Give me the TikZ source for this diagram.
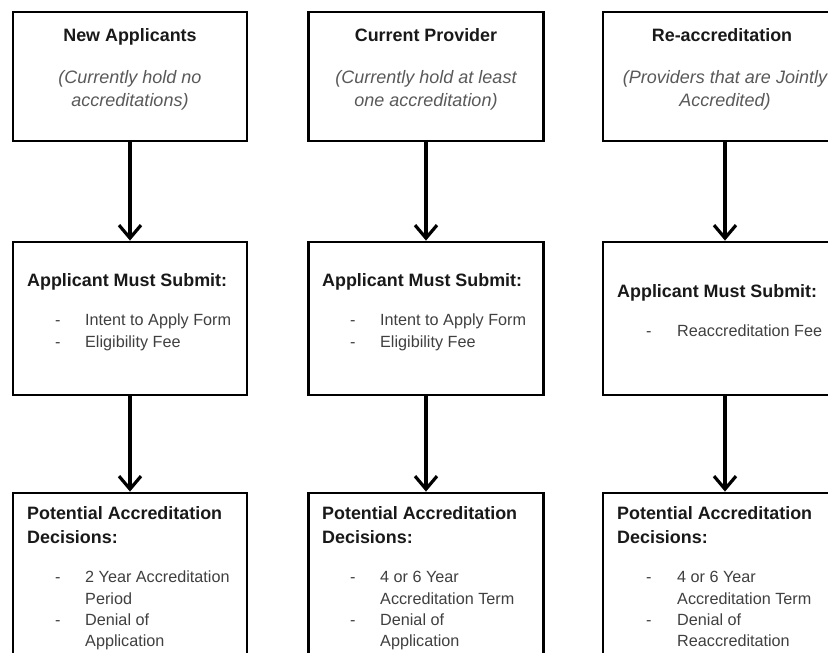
\documentclass[tikz,border=0pt]{standalone}
\usepackage{fontspec}
\setmainfont{Liberation Sans}
\usetikzlibrary{arrows.meta}
\definecolor{headblack}{gray}{0.1}
\definecolor{notegrey}{gray}{0.35}
\definecolor{itemgrey}{gray}{0.25}

\begin{document}
\begin{tikzpicture}[x=1pt, y=-1pt,
	stage/.style={shape=rectangle, draw=black, line width=2.8pt, fill=white, inner sep=0pt},
	head/.style={inner sep=0pt, text=headblack, font=\fontsize{17.9}{24.3}\bfseries},
	note/.style={inner sep=0pt, anchor=base, text=notegrey, font=\fontsize{18}{23}\itshape},
	items/.style={inner sep=0pt, anchor=base west, text=itemgrey, font=\fontsize{16.2}{21.3}\selectfont},
	flow/.style={line width=3.2pt, -{Straight Barb[length=13pt, width=22pt]}}]

	\useasboundingbox (0,0) rectangle (828,653);
	\clip (0,0) rectangle (828,653);

	% top row
	\node[stage, minimum width=234pt, minimum height=129pt] (new) at (130, 76.5) {};
	\node[stage, minimum width=235pt, minimum height=129pt] (cur) at (426, 76.5) {};
	\node[stage, minimum width=244pt, minimum height=129pt] (re)  at (725, 76.5) {};

	% middle row
	\node[stage, minimum width=234pt, minimum height=153pt] (newsub) at (130, 318.5) {};
	\node[stage, minimum width=235pt, minimum height=153pt] (cursub) at (426, 318.5) {};
	\node[stage, minimum width=244pt, minimum height=153pt] (resub)  at (725, 318.5) {};

	% bottom row
	\node[stage, minimum width=234pt, minimum height=200pt] (newdec) at (130, 593) {};
	\node[stage, minimum width=235pt, minimum height=200pt] (curdec) at (426, 593) {};
	\node[stage, minimum width=244pt, minimum height=200pt] (redec)  at (725, 593) {};

	% texts of the top row
	\node[head, anchor=base] (newhead) at (130, 41.7) {New Applicants};
	\node[note] (newnote) at (130, 83.3) {\begin{tabular}[t]{@{}c@{}}(Currently hold no\\accreditations)\end{tabular}};
	\node[head, anchor=base] (curhead) at (426, 41.7) {Current Provider};
	\node[note] (curnote) at (426, 83.3) {\begin{tabular}[t]{@{}c@{}}(Currently hold at least\\one accreditation)\end{tabular}};
	\node[head, anchor=base] (rehead) at (722, 41.7) {Re-accreditation};
	\node[note] (renote) at (725, 83.3) {\begin{tabular}[t]{@{}c@{}}(Providers that are Jointly\\Accredited)\end{tabular}};

	% texts of the middle row
	\node[head, anchor=base west] (newsubhead) at (27, 286) {Applicant Must Submit:};
	\node[items] (newsublist) at (55, 325.7) {\begin{tabular}[t]{@{}p{30pt}@{}l@{}}-&Intent to Apply Form\\-&Eligibility Fee\end{tabular}};
	\node[head, anchor=base west] (cursubhead) at (322, 286) {Applicant Must Submit:};
	\node[items] (cursublist) at (350, 325.7) {\begin{tabular}[t]{@{}p{30pt}@{}l@{}}-&Intent to Apply Form\\-&Eligibility Fee\end{tabular}};
	\node[head, anchor=base west] (resubhead) at (617, 297.7) {Applicant Must Submit:};
	\node[items] (resublist) at (646, 336.7) {\begin{tabular}[t]{@{}p{31pt}@{}l@{}}-&Reaccreditation Fee\end{tabular}};

	% texts of the bottom row
	\node[head, anchor=base west] (newdechead) at (27, 519) {\begin{tabular}[t]{@{}l@{}}Potential Accreditation\\Decisions:\end{tabular}};
	\node[items] (newdeclist) at (55, 582.7) {\begin{tabular}[t]{@{}p{30pt}@{}l@{}}-&2 Year Accreditation\\&Period\\-&Denial of\\&Application\end{tabular}};
	\node[head, anchor=base west] (curdechead) at (322, 519) {\begin{tabular}[t]{@{}l@{}}Potential Accreditation\\Decisions:\end{tabular}};
	\node[items] (curdeclist) at (350, 582.7) {\begin{tabular}[t]{@{}p{30pt}@{}l@{}}-&4 or 6 Year\\&Accreditation Term\\-&Denial of\\&Application\end{tabular}};
	\node[head, anchor=base west] (redechead) at (617, 519) {\begin{tabular}[t]{@{}l@{}}Potential Accreditation\\Decisions:\end{tabular}};
	\node[items] (redeclist) at (646, 582.7) {\begin{tabular}[t]{@{}p{31pt}@{}l@{}}-&4 or 6 Year\\&Accreditation Term\\-&Denial of\\&Reaccreditation\end{tabular}};

	% arrows
	\path[flow] (new) edge (newsub);
	\path[flow] (cur) edge (cursub);
	\path[flow] (re) edge (resub);
	\path[flow] (newsub) edge (newdec);
	\path[flow] (cursub) edge (curdec);
	\path[flow] (resub) edge (redec);

\end{tikzpicture}
\end{document}
